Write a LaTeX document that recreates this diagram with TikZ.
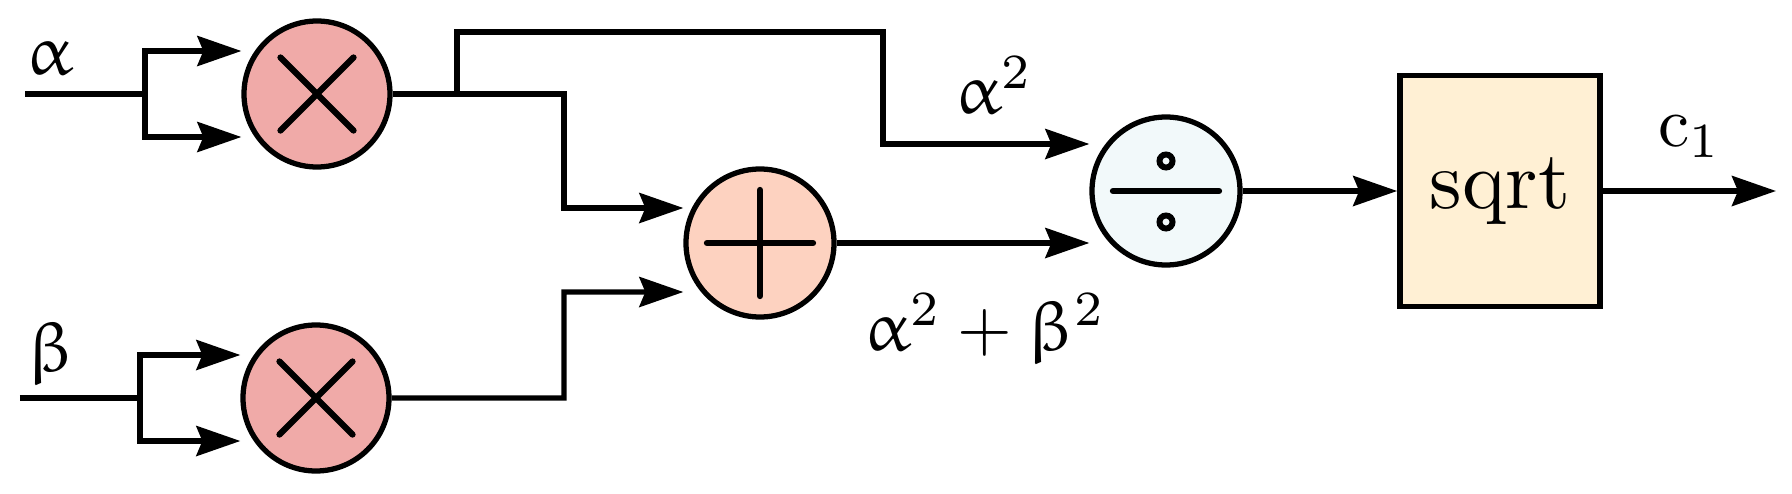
\documentclass[tikz,border=0pt]{standalone}
\usepackage[Euler]{upgreek}
\usepackage{tikz}
\usetikzlibrary{arrows.meta, positioning}
\definecolor{mulred}{RGB}{240,170,168}
\definecolor{addpeach}{RGB}{253,210,192}
\definecolor{divblue}{RGB}{242,249,250}
\definecolor{sqcream}{RGB}{255,240,212}

\begin{document}
\begin{tikzpicture}[line width=1.5pt,
  op/.style={circle, draw, line width=1.5pt, minimum size=1.46cm, inner sep=0pt},
  lbl/.style={scale=2},
  sig/.style={-{Stealth[length=4.4mm,width=3mm,inset=0.6mm]}}]
\useasboundingbox (0,0) rectangle (17.92,4.93);

% blocks
\node[op, fill=mulred] (mul1) at (3.17,3.99) {};
\node[op, fill=mulred] (mul2) at (3.16,0.95) {};
\node[op, fill=addpeach, minimum size=1.48cm] (add) at (7.60,2.50) {};
\node[op, fill=divblue, minimum size=1.48cm] (div) at (11.66,3.02) {};
\node[draw, fill=sqcream, line width=1.6pt, minimum width=2cm, minimum height=2.31cm]
  (sq) at (15.00,3.02) {\scalebox{2.35}{sqrt}};

% signs inside the circles
\foreach \m in {mul1,mul2}
  \draw[line cap=round, line width=1.8pt] (\m.center) ++(-0.365,-0.365) -- ++(0.73,0.73)
    (\m.center) ++(-0.365,0.365) -- ++(0.73,-0.73);
\draw[line cap=round, line width=1.8pt] (add.center) ++(-0.53,0) -- ++(1.06,0)
  (add.center) ++(0,-0.53) -- ++(0,1.06);
\draw[line cap=round, line width=1.8pt] (div.center) ++(-0.53,0) -- ++(1.06,0);
\draw[line width=1.7pt] (div.center) ++(0,0.30) circle (0.065)
  (div.center) ++(0,-0.31) circle (0.065);

% wires
\coordinate (ain) at (0.25,3.99);
\coordinate (asplit) at (1.45,3.99);
\coordinate (bin) at (0.20,0.95);
\coordinate (bsplit) at (1.40,0.95);
\coordinate (tap) at (4.57,3.99);
\coordinate (up) at (8.83,4.61);
\coordinate (jtop) at (5.64,3.99);
\coordinate (jbot) at (5.64,2.01);
\coordinate (cout) at (17.76,3.02);

\draw (ain) -- (asplit);
\draw[sig] (asplit) |- ([yshift=4.3mm]mul1.west);
\draw[sig] (asplit) |- ([yshift=-4.3mm]mul1.west);
\draw (bin) -- (bsplit);
\draw[sig] (bsplit) |- ([yshift=4.3mm]mul2.west);
\draw[sig] (bsplit) |- ([yshift=-4.3mm]mul2.west);

\draw (mul1.east) -- (tap);
\draw[sig] (tap) |- (up) |- ([yshift=4.7mm]div.west);
\draw[sig] (tap) -- (jtop) |- ([yshift=3.5mm]add.west);
\draw[sig] (mul2.east) -| (jbot) -- ([yshift=-4.9mm]add.west);
\draw[sig] (add.east) -- (add.east -| div.west);
\draw[sig] (div.east) -- (sq.west);
\draw[sig] (sq.east) -- (cout);

% labels
\node[lbl] (alab) at (0.50,4.35) {$\upalpha$};
\node[lbl] (blab) at (0.51,1.39) {$\upbeta$};
\node[lbl] (sqlab) at (9.94,4.08) {$\upalpha^2$};
\node[lbl] (sumlab) at (9.85,1.64) {$\upalpha^2+\upbeta^2$};
\node[lbl] (clab) at (16.90,3.56) {$\mathrm{c}_1$};
\end{tikzpicture}
\end{document}
